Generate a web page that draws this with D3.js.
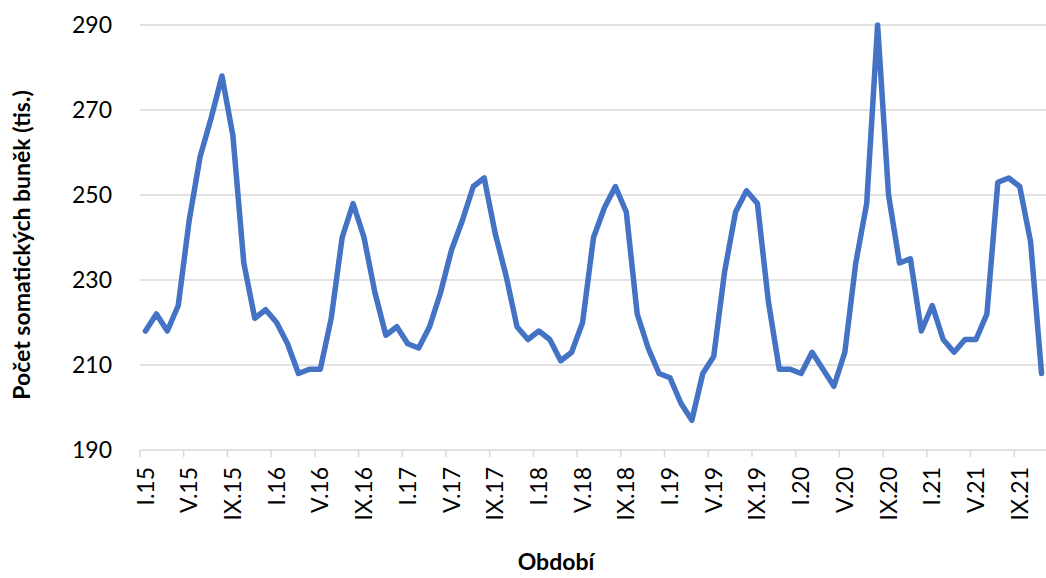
<!DOCTYPE html>
<html>
<head>
<meta charset="utf-8">
<script src="https://cdn.jsdelivr.net/npm/d3@7"></script>
<style>
  html, body { margin: 0; padding: 0; background: #fff; }
  svg { display: block; font-family: Lato, "Open Sans", sans-serif; }
</style>
</head>
<body>
<div id="chart"></div>
<script>
// month labels: roman month + year
const romans = ["I", "II", "III", "IV", "V", "VI", "VII", "VIII", "IX", "X", "XI", "XII"];
const years = ["15", "16", "17", "18", "19", "20", "21"];
const months = [];
years.forEach(y => romans.forEach(r => months.push(r + "." + y)));
months.splice(83); // data ends at XI.21

// somatic cell count (thousands), one per month
const values = [
  218, 222, 218, 224, 244, 259, 268, 278, 264, 234, 221, 223,
  220, 215, 208, 209, 209, 221, 240, 248, 240, 227, 217, 219,
  215, 214, 219, 227, 237, 244, 252, 254, 241, 231, 219, 216,
  218, 216, 211, 213, 220, 240, 247, 252, 246, 222, 214, 208,
  207, 201, 197, 208, 212, 232, 246, 251, 248, 225, 209, 209,
  208, 213, 209, 205, 213, 234, 248, 290, 250, 234, 235, 218,
  224, 216, 213, 216, 216, 222, 253, 254, 252, 239, 208
];

const yTicks = [190, 210, 230, 250, 270, 290];

const width = 1046, height = 578;
const plot = { left: 140, right: 1047, top: 25, bottom: 450 };

const svg = d3.select("#chart").append("svg")
  .attr("width", width)
  .attr("height", height);

const x = d3.scaleBand()
  .domain(months)
  .range([plot.left, plot.right])
  .padding(0);

const y = d3.scaleLinear()
  .domain([190, 290])
  .range([plot.bottom, plot.top]);

// gridlines
svg.append("g")
  .selectAll("line")
  .data(yTicks.slice(1))
  .enter().append("line")
  .attr("x1", plot.left)
  .attr("x2", width)
  .attr("y1", d => y(d))
  .attr("y2", d => y(d))
  .attr("stroke", "#d9d9d9")
  .attr("stroke-width", 1.5);

// y labels
svg.append("g")
  .selectAll("text")
  .data(yTicks)
  .enter().append("text")
  .attr("x", 112)
  .attr("y", d => y(d))
  .attr("dy", "0.35em")
  .attr("text-anchor", "end")
  .attr("font-size", 23)
  .attr("fill", "#000")
  .text(d => d);

// x axis line
svg.append("line")
  .attr("x1", plot.left)
  .attr("x2", width)
  .attr("y1", plot.bottom)
  .attr("y2", plot.bottom)
  .attr("stroke", "#d9d9d9")
  .attr("stroke-width", 1.5);

const labelled = months.filter((m, i) => i % 4 === 0);

// tick marks at category boundaries
svg.append("g")
  .selectAll("line")
  .data(labelled)
  .enter().append("line")
  .attr("x1", d => x(d))
  .attr("x2", d => x(d))
  .attr("y1", plot.bottom)
  .attr("y2", plot.bottom + 7)
  .attr("stroke", "#d9d9d9")
  .attr("stroke-width", 1.5);

// rotated month labels
svg.append("g")
  .selectAll("text")
  .data(labelled)
  .enter().append("text")
  .attr("transform", d => `translate(${x(d) + x.bandwidth() / 2}, 467) rotate(-90)`)
  .attr("dy", "0.35em")
  .attr("text-anchor", "end")
  .attr("font-size", 23)
  .attr("fill", "#000")
  .text(d => d);

// data line
const line = d3.line()
  .x((d, i) => x(months[i]) + x.bandwidth() / 2)
  .y(d => y(d));

svg.append("path")
  .datum(values)
  .attr("d", line)
  .attr("fill", "none")
  .attr("stroke", "#4472c4")
  .attr("stroke-width", 5.5)
  .attr("stroke-linejoin", "round")
  .attr("stroke-linecap", "round");

// axis titles
svg.append("text")
  .attr("transform", "translate(22, 245) rotate(-90)")
  .attr("dy", "0.35em")
  .attr("text-anchor", "middle")
  .attr("font-size", 23)
  .attr("font-weight", "bold")
  .attr("fill", "#000")
  .text("Počet somatických buněk (tis.)");

svg.append("text")
  .attr("x", 556)
  .attr("y", 570)
  .attr("text-anchor", "middle")
  .attr("font-size", 23)
  .attr("font-weight", "bold")
  .attr("fill", "#000")
  .text("Období");
</script>
</body>
</html>
